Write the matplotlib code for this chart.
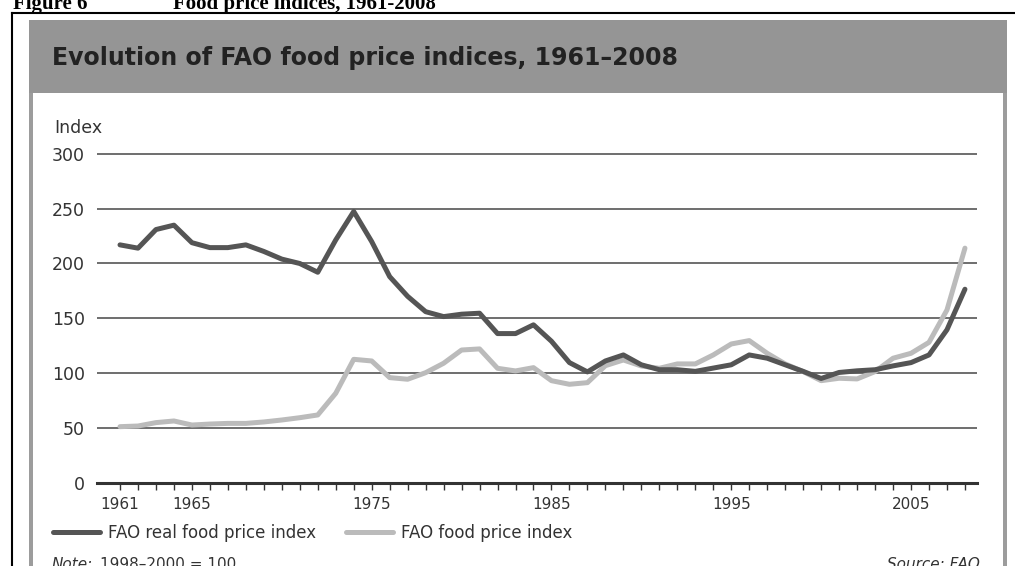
import matplotlib
matplotlib.use("Agg")
import matplotlib.pyplot as plt
from matplotlib.patches import Rectangle
from matplotlib.lines import Line2D

# ---- data ----
years = list(range(1961, 2009))
real_index = [217, 214, 231, 235, 219, 214.5, 214.5, 217, 211, 204,
              200, 192, 221.5, 247.5, 220, 188, 170, 156, 151.5, 153.7,
              154.6, 136, 136, 144, 129, 109.5, 101, 111, 116.5, 107.5,
              103, 103, 101.5, 104.5, 107.5, 116.5, 113.5, 107.5, 101.5, 95,
              100.5, 102, 103, 106.5, 109.5, 116.5, 139.5, 176.5]
nominal_index = [51, 51.6, 54.7, 56.2, 52.5, 53.4, 54, 54, 55.3, 57.1,
                 59.2, 61.7, 81.5, 112.5, 111, 95.8, 94.3, 100.3, 108.9, 121,
                 122, 104.3, 101.9, 104.9, 93, 89.7, 91.2, 106.7, 111.9, 106.4,
                 104.3, 108.3, 108.3, 116.5, 126.5, 129.6, 118, 108.3, 101.3, 93,
                 95.2, 94.6, 101.3, 113.5, 118, 128, 157.6, 214]
y_ticks = [0, 50, 100, 150, 200, 250, 300]
x_labeled = [1961, 1965, 1975, 1985, 1995, 2005]

W, H = 1015, 566


def fx(px):
    return px / W


def fy(py):
    return 1 - py / H


fig = plt.figure(figsize=(W / 100, H / 100), dpi=100)
fig.patch.set_facecolor("white")

# ---- frame / header decoration ----
fig.text(fx(13), fy(9), "Figure 6", family="Liberation Serif", weight="bold",
         fontsize=15, va="baseline", ha="left")
fig.text(fx(173), fy(9), "Food price indices, 1961-2008", family="Liberation Serif",
         weight="bold", fontsize=15, va="baseline", ha="left")
fig.add_artist(Line2D([fx(12), fx(12)], [fy(566), fy(13)], transform=fig.transFigure,
                      color="black", lw=1.5))
fig.add_artist(Line2D([fx(12), fx(1015)], [fy(13), fy(13)], transform=fig.transFigure,
                      color="black", lw=1.5))
fig.add_artist(Rectangle((fx(29), fy(93)), fx(978), 73 / H, transform=fig.transFigure,
                         facecolor="#959595", edgecolor="none"))
for xl in (29, 1003):
    fig.add_artist(Rectangle((fx(xl), fy(566)), fx(4), (566 - 93) / H,
                             transform=fig.transFigure, facecolor="#9c9c9c",
                             edgecolor="none"))
fig.text(fx(52), fy(58), "Evolution of FAO food price indices, 1961\u20132008",
         fontsize=17, weight="bold", color="#222222", va="center", ha="left")

# ---- chart ----
ax = fig.add_axes([fx(97), fy(488), 880 / W, 339.5 / H])
ax.set_xlim(1959.72, 2008.67)
ax.set_ylim(-5, 305)

for v in y_ticks[1:]:
    ax.axhline(v, color="#555555", lw=1.2, zorder=1)

ax.plot(years, nominal_index, color="#bbbbbb", lw=3.6, solid_capstyle="round",
        solid_joinstyle="round", zorder=3, label="FAO food price index")
ax.plot(years, real_index, color="#555555", lw=3.6, solid_capstyle="round",
        solid_joinstyle="round", zorder=4, label="FAO real food price index")

for s in ("top", "right", "left"):
    ax.spines[s].set_visible(False)
ax.spines["bottom"].set_position(("data", 0))
ax.spines["bottom"].set_color("#333333")
ax.spines["bottom"].set_linewidth(2.2)
ax.spines["bottom"].set_zorder(5)

ax.set_yticks(y_ticks)
ax.tick_params(axis="y", length=0, pad=8.6, labelsize=12.5, labelcolor="#333333")

ax.set_xticks(x_labeled)
ax.set_xticks([y for y in years if y not in x_labeled], minor=True)
ax.tick_params(axis="x", which="both", direction="out", length=5, width=1,
               color="#333333", pad=5.4, labelsize=11, labelcolor="#333333")

fig.text(fx(54), fy(128), "Index", fontsize=12.5, color="#333333", va="center", ha="left")

# legend: real index first
handles, labels = ax.get_legend_handles_labels()
fig.legend(handles[::-1], labels[::-1], loc="center left",
           bbox_to_anchor=(fx(53), fy(533)), ncol=2, frameon=False,
           borderpad=0, borderaxespad=0, handlelength=2.8, handletextpad=0.5,
           columnspacing=1.8, fontsize=12, labelcolor="#333333")

# note line: italic "Note:" followed by the base period
note = fig.text(fx(52), fy(557), "Note:", style="italic", fontsize=11,
                color="#333333", va="top", ha="left")
fig.canvas.draw()
note_end = note.get_window_extent().x1
fig.text((note_end + 7) / W, fy(557), "1998\u20132000 = 100", fontsize=11,
         color="#333333", va="top", ha="left")
fig.text(fx(980), fy(557), "Source: FAO", style="italic", fontsize=11,
         color="#333333", va="top", ha="right")

fig.savefig("out.png", dpi=100)
